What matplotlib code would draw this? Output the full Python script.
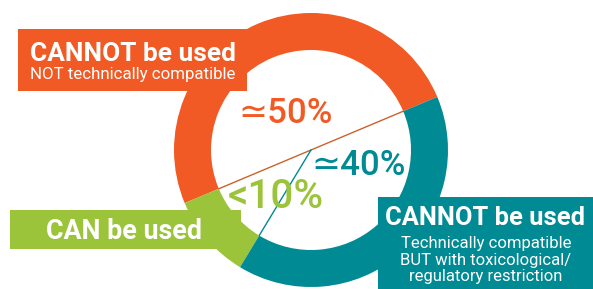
import matplotlib
matplotlib.use("Agg")
import matplotlib.pyplot as plt
from matplotlib.patches import Rectangle
import numpy as np

# ---- data ----
categories = ["CANNOT be used (not compatible)", "CAN be used", "CANNOT be used (restricted)"]
values = [50, 10, 40]
pct_labels = ["\u224350%", "<10%", "\u224340%"]
titles = ["CANNOT be used", "CAN be used", "CANNOT be used"]
subtitles = ["NOT technically compatible", "",
             "Technically compatible\nBUT with toxicological/\nregulatory restriction"]
colors = ["#F15A24", "#9BC43A", "#008A93"]

FONT = ["Roboto", "DejaVu Sans"]

W, H = 593, 289
fig = plt.figure(figsize=(W / 100, H / 100), dpi=100)
ax = fig.add_axes([0, 0, 1, 1])
renderer = fig.canvas.get_renderer()

cx, cy = 311, H - 150
R, ring = 137, 37

wedges, _ = ax.pie(values, colors=colors, startangle=22.8, counterclock=True,
                   center=(cx, cy), radius=R,
                   wedgeprops=dict(width=ring, linewidth=0))
for w in wedges:
    w.set_zorder(3)

r_in = R - ring
def pt(a):
    t = np.deg2rad(a)
    return cx + r_in * np.cos(t), cy + r_in * np.sin(t)

a_ot = wedges[0].theta1
a_og = wedges[0].theta2
a_gt = wedges[1].theta2
p1, p2 = pt(a_og), pt(a_ot)
ax.plot([p1[0], p2[0]], [p1[1], p2[1]], color="#C8632B", lw=1.0, zorder=2)
p3 = pt(a_gt)
ax.plot([cx, p3[0]], [cy, p3[1]], color="#008A93", lw=1.0, zorder=2)

ax.set_xlim(0, W)
ax.set_ylim(0, H)
ax.axis("off")


def fit_text(x, y, s, width, **kw):
    t = ax.text(x, y, s, fontsize=10, ha="center", va="baseline",
                family=FONT, zorder=5, **kw)
    bb = t.get_window_extent(renderer)
    t.set_fontsize(10 * width / bb.width)
    return t


# percentage labels: (center x, baseline y img, width)
pct_pos = [(286, 123, 94), (276, 208, 96), (359, 175, 94)]
for lab, (x, y, wd), c in zip(pct_labels, pct_pos, colors):
    fit_text(x, H - y, lab, wd, color=c, fontweight="medium")

# boxes: (x0, y0_img, x1, y1_img)
boxes = [(18, 29, 247, 91), (10, 210, 241, 249), (378, 197, 600, 295)]
title_pos = [(133, 61, 206), (124, 239, 156), (485, 225, 200)]
sub_pos = [(133, 79, 206), None, (486, 248, 170)]
for i in range(3):
    x0, y0, x1, y1 = boxes[i]
    ax.add_patch(Rectangle((x0, H - y1), x1 - x0, y1 - y0, facecolor=colors[i],
                           edgecolor="none", zorder=4, clip_on=False))
    tx, ty, tw = title_pos[i]
    fit_text(tx, H - ty, titles[i], tw, color="white", fontweight="bold")
    if sub_pos[i] is not None:
        sx, sy, sw = sub_pos[i]
        lines = subtitles[i].split("\n")
        t0 = fit_text(sx, H - sy, lines[0], sw, color="white")
        fs = t0.get_fontsize()
        for k, ln in enumerate(lines[1:], start=1):
            ax.text(sx, H - (sy + 16.5 * k), ln, color="white", fontsize=fs,
                    ha="center", va="baseline", family=FONT, zorder=5)

fig.savefig("out.png", dpi=100)
